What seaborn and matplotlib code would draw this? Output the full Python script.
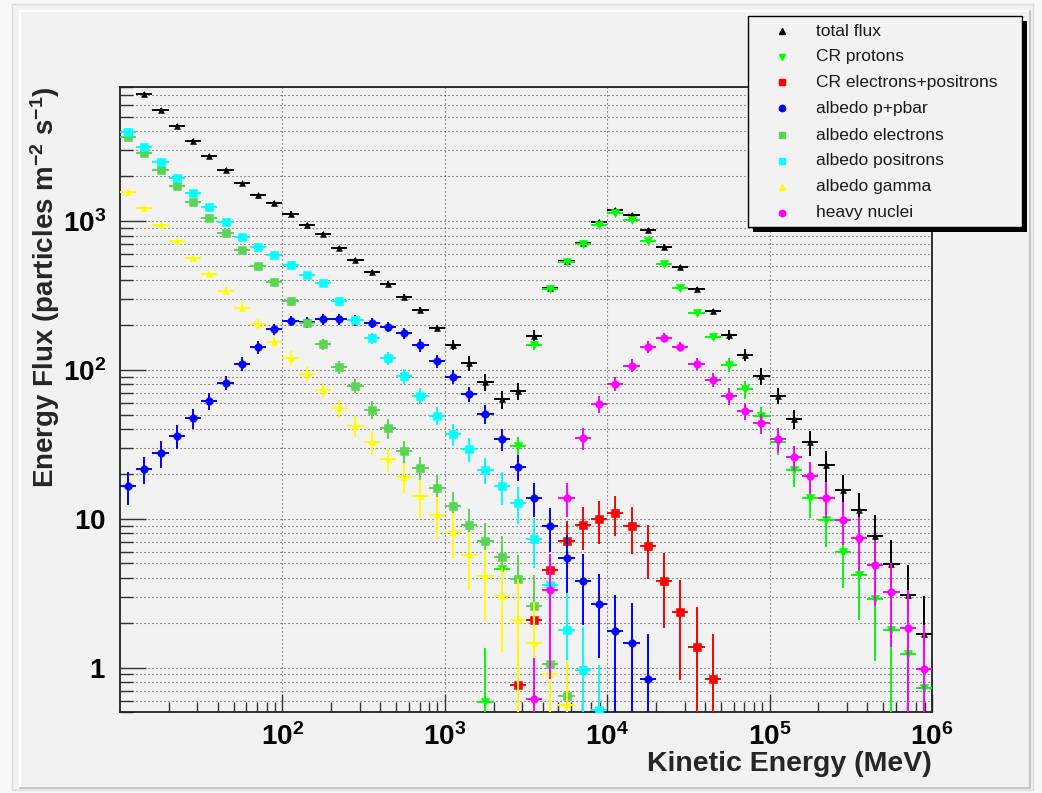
import numpy as np
import pandas as pd
import matplotlib
matplotlib.use("Agg")
import matplotlib.pyplot as plt
from matplotlib.lines import Line2D
from matplotlib.patches import Rectangle
from matplotlib.ticker import LogLocator, NullFormatter
import seaborn as sns

nan = np.nan

# 50 logarithmic energy bins, 10 MeV .. 1e6 MeV
bin_edges = np.logspace(1, 6, 51)

# Flux per bin (particles m^-2 s^-1); *_first is the index of the first filled bin
total_flux_first = 0
total_flux = [nan, 7190, 5620, 4365, 3440, 2740, 2208, 1790, 1487, 1320,
              1120, 936, 814, 657, 547, 453, 378, 311, 253, 192,
              147, 111, 83, 63.5, 72, 170, 353, 540, 715, 980,
              1185, 1097, 871, 673, 493, 348, 248, 172, 126, 91,
              67, 47, 32.7, 23, 15.5, 11.4, 7.6, 4.96, 3.09, 1.69]
total_flux_relerr = [nan, .03, .03, .03, .03, .03, .03, .03, .03, .03,
                     .04, .04, .04, .04, .04, .04, .04, .04, .04, .05,
                     .08, .12, .13, .14, .13, .09, .035, .035, .035, .035,
                     .035, .035, .035, .035, .035, .035, .04, .075, .09, .125,
                     .125, .15, .19, .23, .27, .30, .40, .44, .57, .78]

cr_protons_first = 22
cr_protons = [0.585, 4.59, 30.9, 146, 348, 531, 698, 940, 1127, 1016,
              734, 514, 353, 243, 166, 108, 74, 49, 32.7, 21.1,
              13.7, 9.84, 5.98, 4.19, 2.89, 1.80, 1.23, 0.73]
cr_protons_relerr = [1.3, .35, .15, .065, .035, .035, .035, .035, .035, .035,
                     .035, .035, .035, .035, .05, .11, .14, .15, .18, .22,
                     .26, .34, .43, .50, .62, .90, .90, 1.0]

cr_leptons_first = 24
cr_leptons = [0.76, 2.08, 4.55, 7.11, 9.12, 9.96, 10.9, 8.88, 6.52, 3.84,
              2.35, 1.37, 0.84]
cr_leptons_relerr = [.8, .5, .26, .36, .32, .32, .30, .35, .40, .52,
                     .65, .85, 1.0]

albedo_hadrons_first = 0
albedo_hadrons = [16.5, 21.6, 27.6, 36.1, 47.4, 62.2, 82.2, 110, 142, 188,
                  214, 209, 219, 219, 215, 207, 194, 176, 147, 115,
                  90.2, 68.7, 50.7, 34.4, 22.4, 13.8, 8.88, 5.45, 3.84, 2.69,
                  1.75, 1.47, 0.84]
albedo_hadrons_relerr = [.25, .21, .20, .18, .15, .13, .11, .11, .095, .09,
                         .08, .08, .08, .08, .08, .08, .08, .08, .10, .10,
                         .11, .12, .15, .17, .20, .26, .33, .42, .50, .57,
                         .75, .85, 1.0]

albedo_electrons_first = 0
albedo_electrons = [3680, 2870, 2198, 1717, 1335, 1042, 827, 638, 499, 390,
                    292, 208, 149, 104, 78, 54, 40.6, 28.3, 21.8, 16.1,
                    12.1, 9.12, 7.05, 5.53, 3.94, 2.60, 1.06, 0.64]
albedo_electrons_relerr = [.03, .03, .03, .03, .03, .03, .03, .03, .03, .03,
                           .04, .05, .09, .10, .11, .14, .16, .17, .20, .23,
                           .25, .28, .32, .38, .45, .60, .85, 1.0]

albedo_positrons_first = 0
albedo_positrons = [3940, 3125, 2490, 1935, 1535, 1242, 985, 785, 666, 589,
                    507, 434, 382, 292, 218, 163, 120, 90.8, 67, 49.3,
                    37, 29.4, 21.3, 16.6, 12.7, 7.35, 3.57, 1.80, 0.96, 0.52]
albedo_positrons_relerr = [.03, .03, .03, .03, .03, .03, .03, .03, .03, .03,
                           .03, .03, .03, .03, .05, .08, .10, .11, .12, .14,
                           .17, .18, .20, .25, .28, .37, .50, .75, .95, 1.0]

albedo_gamma_first = 0
albedo_gamma = [1573, 1227, 940, 734, 562, 441, 340, 262, 204, 155,
                121, 93.6, 73.4, 55.3, 42.1, 32.7, 25.3, 19.2, 14.3, 10.6,
                8.15, 5.72, 4.10, 3.01, 2.08, 1.45, 0.90, 0.56]
albedo_gamma_relerr = [.03, .03, .03, .03, .03, .05, .06, .07, .08, .08,
                       .11, .11, .12, .14, .155, .18, .18, .23, .28, .31,
                       .33, .42, .50, .58, .88, .90, .90, 1.0]

heavy_nuclei_first = 25
heavy_nuclei = [0.61, 3.33, 13.8, 34.8, 58.9, 80.9, 107, 143, 165, 143,
                110, 85.7, 67, 53.3, 43.9, 34.3, 25.8, 19.4, 13.8, 9.84,
                7.38, 4.89, 3.20, 1.85, 0.97]
heavy_nuclei_relerr = [.9, .75, .26, .17, .13, .11, .10, .09, .07, .07,
                       .09, .11, .13, .13, .15, .19, .19, .24, .27, .32,
                       .40, .47, .57, .80, 1.0]

series_labels = ["total flux", "CR protons", "CR electrons+positrons",
                 "albedo p+pbar", "albedo electrons", "albedo positrons",
                 "albedo gamma", "heavy nuclei"]

# ---- styling -------------------------------------------------------------
sns.set_theme(style="ticks")
plt.rcParams.update({
    "font.family": ["Liberation Sans", "DejaVu Sans"],
    "mathtext.fontset": "custom",
    "mathtext.rm": "Liberation Sans:bold",
    "mathtext.it": "Liberation Sans:bold",
    "mathtext.bf": "Liberation Sans:bold",
    "mathtext.default": "rm",
    "axes.unicode_minus": True,
})

W, H = 1042, 793
CANVAS = "#f2f2f2"


def fx(px):
    return px / W


def fy(py):
    return 1 - py / H


series = [
    # data, first bin, rel. errors, colour, marker, scatter size, legend marker size
    (total_flux, total_flux_first, total_flux_relerr, "#000000", "^", 18, 4.0),
    (cr_protons, cr_protons_first, cr_protons_relerr, "#00ff00", "v", 34, 5.0),
    (cr_leptons, cr_leptons_first, cr_leptons_relerr, "#ff0000", "s", 30, 4.6),
    (albedo_hadrons, albedo_hadrons_first, albedo_hadrons_relerr, "#0000ff", "o", 30, 4.6),
    (albedo_electrons, albedo_electrons_first, albedo_electrons_relerr, "#59d454", "s", 32, 4.6),
    (albedo_positrons, albedo_positrons_first, albedo_positrons_relerr, "#00ffff", "s", 32, 4.8),
    (albedo_gamma, albedo_gamma_first, albedo_gamma_relerr, "#ffff00", "^", 18, 4.2),
    (heavy_nuclei, heavy_nuclei_first, heavy_nuclei_relerr, "#ff00ff", "o", 30, 4.6),
]

fig = plt.figure(figsize=(W / 100, H / 100), dpi=100)
fig.patch.set_facecolor("#f8f8f8")

# canvas panel with bevelled border
fig.add_artist(Rectangle((fx(12), fy(790)), (1033 - 12) / W, (790 - 4) / H,
                         transform=fig.transFigure, facecolor=CANVAS,
                         edgecolor="#dddddd", lw=1.0, zorder=0))
fig.add_artist(Line2D([fx(20), fx(1029)], [fy(11), fy(11)], color="white", lw=1.5,
                      transform=fig.transFigure, zorder=0.1))
fig.add_artist(Line2D([fx(20), fx(20)], [fy(11), fy(788)], color="white", lw=1.5,
                      transform=fig.transFigure, zorder=0.1))
fig.add_artist(Line2D([fx(1030), fx(1030)], [fy(11), fy(788)], color="#c4c4c4", lw=1.5,
                      transform=fig.transFigure, zorder=0.1))
fig.add_artist(Line2D([fx(20), fx(1030)], [fy(788), fy(788)], color="#c4c4c4", lw=1.5,
                      transform=fig.transFigure, zorder=0.1))

ax = fig.add_axes([fx(120), fy(712.3), (932 - 120) / W, (712.3 - 86.7) / H])
ax.set_facecolor(CANVAS)
ax.set_xscale("log")
ax.set_yscale("log")

bin_lo = bin_edges[:-1]
bin_hi = bin_edges[1:]
centers = np.sqrt(bin_lo * bin_hi)

for k, (vals, first, rel, color, marker, size, _) in enumerate(series):
    v = np.asarray(vals, dtype=float)
    r = np.asarray(rel, dtype=float)
    idx = np.arange(first, first + len(v))
    ok = np.isfinite(v)
    idx, v, r = idx[ok], v[ok], r[ok]
    x = centers[idx]
    sigma = v * r
    lower = np.where(v - sigma > 1e-3, sigma, v - 1e-3)
    ax.errorbar(x, v, xerr=[x - bin_lo[idx], bin_hi[idx] - x],
                yerr=[lower, sigma], fmt="none", ecolor=color,
                elinewidth=1.4, capsize=0, zorder=3 + k * 0.1)
    df = pd.DataFrame({"energy": x, "flux": v})
    sns.scatterplot(data=df, x="energy", y="flux", ax=ax, marker=marker, s=size,
                    color=color, edgecolor=color, linewidth=0.4, legend=False,
                    zorder=3.05 + k * 0.1)

ax.set_xlim(10, 1e6)
ax.set_ylim(0.5, 8000)

ax.set_xticks([1e2, 1e3, 1e4, 1e5, 1e6],
              labels=[r"$10^{2}$", r"$10^{3}$", r"$10^{4}$", r"$10^{5}$", r"$10^{6}$"])
ax.set_yticks([1, 10, 100, 1000],
              labels=[r"$1$", r"$10$", r"$10^{2}$", r"$10^{3}$"])
ax.xaxis.set_minor_locator(LogLocator(base=10, subs=np.arange(2, 10), numticks=30))
ax.yaxis.set_minor_locator(LogLocator(base=10, subs=np.arange(2, 10), numticks=30))
ax.xaxis.set_minor_formatter(NullFormatter())
ax.yaxis.set_minor_formatter(NullFormatter())

ax.tick_params(which="both", direction="in", top=False, right=False,
               color="#333333", width=1.0, labelsize=20, labelcolor="black")
ax.tick_params(axis="y", which="major", length=18.5, pad=10)
ax.tick_params(axis="y", which="minor", length=9.4)
ax.tick_params(axis="x", which="major", length=13, pad=8)
ax.tick_params(axis="x", which="minor", length=7.5)

ax.set_axisbelow(True)
grid_kw = dict(color="#444444", lw=0.8, linestyle=(0, (1, 2.6)))
ax.grid(which="major", axis="both", **grid_kw)
ax.grid(which="minor", axis="y", **grid_kw)
ax.grid(which="minor", axis="x", visible=False)

for sp in ax.spines.values():
    sp.set_color("#222222")
    sp.set_linewidth(1.3)
    sp.set_visible(True)

ax.set_xlabel("Kinetic Energy (MeV)", fontsize=20.5, fontweight="bold", loc="right")
ax.xaxis.set_label_coords(1.0, -0.062)
ax.set_ylabel(r"Energy Flux (particles m$^{-2}$ s$^{-1}$)", fontsize=20,
              fontweight="bold", loc="top")
ax.yaxis.set_label_coords(-0.0714, 1.0)

# legend panel with drop shadow
lx0, ly0, lx1, ly1 = 748, 16, 1022, 227
fig.add_artist(Rectangle((fx(lx0 + 5), fy(ly1 + 5)), (lx1 - lx0) / W, (ly1 - ly0) / H,
                         transform=fig.transFigure, facecolor="black",
                         edgecolor="black", lw=0, zorder=5))
fig.add_artist(Rectangle((fx(lx0), fy(ly1)), (lx1 - lx0) / W, (ly1 - ly0) / H,
                         transform=fig.transFigure, facecolor=CANVAS,
                         edgecolor="black", lw=1.0, zorder=5.1))
row_y = [31, 56.5, 82, 108, 135, 161, 187, 213]
for (vals, first, rel, color, marker, size, lms), label, yc in zip(series, series_labels, row_y):
    fig.add_artist(Line2D([fx(782)], [fy(yc)], marker=marker, ms=lms, color=color,
                          markeredgecolor=color, linestyle="none",
                          transform=fig.transFigure, zorder=6))
    fig.text(fx(816), fy(yc), label, fontsize=12.5, color="#1a1a1a",
             ha="left", va="center", zorder=6)

fig.savefig("out.png", dpi=100, facecolor=fig.get_facecolor())
